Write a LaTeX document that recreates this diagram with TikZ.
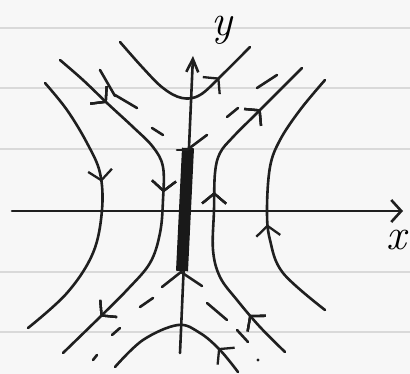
\documentclass[tikz,border=0pt]{standalone}
\usetikzlibrary{arrows.meta,decorations.markings}
\begin{document}
\begin{tikzpicture}[x=1pt,y=-1pt,
  ink/.style={line width=2.6pt,line cap=round,line join=round,black!88},
  arr/.style={postaction={decorate},decoration={markings,
     mark=at position #1 with {\arrow[line width=2.3pt]{Straight Barb[length=10pt,width=24pt]}}}},
  ruled/.style={line width=1.8pt,black!15},
  lbl/.style={inner sep=0pt,font=\fontsize{44}{44}\selectfont\itshape}]
\fill[black!3] (0,0) rectangle (410,374);
\useasboundingbox (0,0) rectangle (410,374);
% ruled paper lines
\foreach \yy in {28,88,149,272,332}
  \draw[ruled] (0,\yy) -- (410,\yy);
% axes
\draw[ink,-{Straight Barb[length=10pt,width=22pt]}] (12,211) -- (403,211) coordinate (xend);
\draw[ink,-{Straight Barb[length=13pt,width=12pt]}] (180,353) -- (193,56) coordinate (yend);
\node[lbl] (xl) at (396,240) {x};
\node[lbl] (yl) at (222,30) {y};
% thick bar
\draw[line width=12pt,black!90] (188,148) -- (182,271);
\coordinate (bt) at (187,150);
\coordinate (bb) at (181,272);
\draw[ink] (bt) -- (207,135);
\draw[ink] (bt) -- (177,150);
\draw[ink] (bb) -- (162,287);
\draw[ink] (bb) -- (202,286);
% top hyperbola
\draw[ink,arr=0.75] plot[smooth,tension=0.6] coordinates
  {(120,42) (143,68) (163,88) (182,98) (200,95) (222,75) (250,47)};
% bottom hyperbola
\draw[ink,arr=0.2] plot[smooth,tension=0.6] coordinates
  {(238,372) (220,350) (200,333) (178,325) (143,340) (115,367)};
% leftmost
\draw[ink,arr=0.4] plot[smooth,tension=0.6] coordinates
  {(45,83) (67,110) (87,143) (100,173) (102,210) (93,253) (67,293) (28,328)};
% second left
\draw[ink,arr=0.17,arr=0.47,arr=0.86] plot[smooth,tension=0.6] coordinates
  {(60,60) (83,80) (107,103) (133,127) (153,147) (163,167) (163,200) (160,233) (150,263) (127,290) (100,317) (63,353)};
% right near axis
\draw[ink,arr=0.15,arr=0.54,arr=0.83] plot[smooth,tension=0.6] coordinates
  {(285,352) (260,327) (237,300) (220,277) (213,250) (214,210) (215,173) (220,153) (233,137) (257,113) (280,90) (302,68)};
% rightmost
\draw[ink,arr=0.4] plot[smooth,tension=0.6] coordinates
  {(325,310) (283,273) (270,240) (267,210) (270,167) (280,140) (300,110) (325,80)};
% dashes
\draw[ink] (100,70) -- (115,96);
\draw[ink] (115,95) -- (137,108);
\draw[ink] (152,128) -- (163,135);
\draw[ink] (257,88) -- (277,75);
\draw[ink] (227,117) -- (238,108);
\draw[ink] (140,307) -- (153,298);
\draw[ink] (112,335) -- (120,328);
\draw[ink] (93,360) -- (97,355);
\draw[ink] (207,303) -- (227,320);
\draw[ink] (237,330) -- (248,342);
\fill[black!88] (258,360) circle (1.7);
\end{tikzpicture}
\end{document}
